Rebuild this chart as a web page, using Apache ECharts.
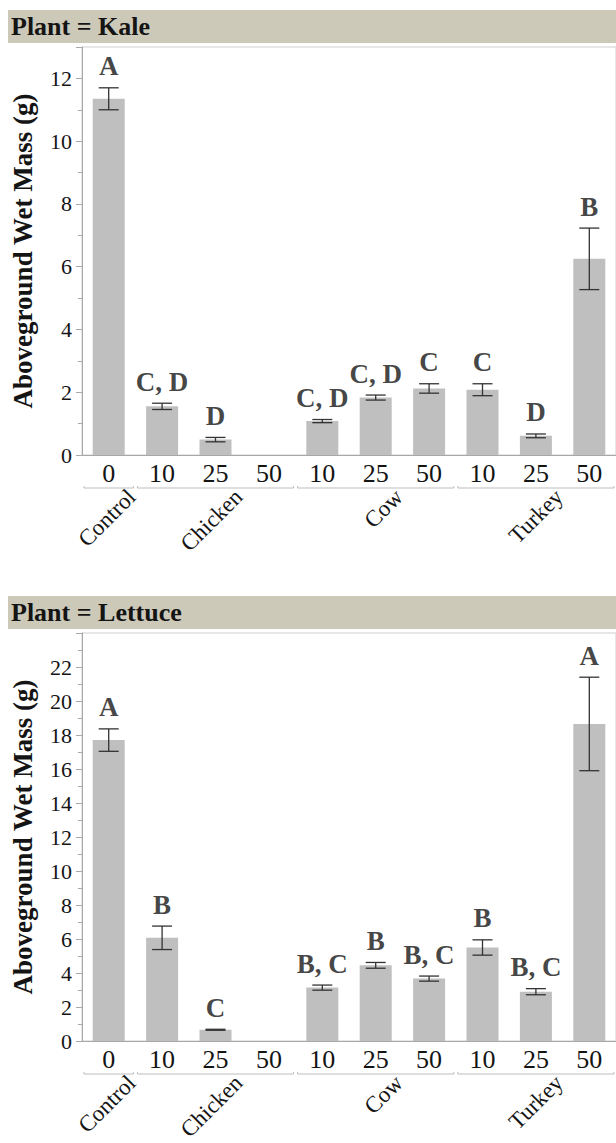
<!DOCTYPE html>
<html>
<head>
<meta charset="utf-8">
<script src="https://cdn.jsdelivr.net/npm/echarts@6/dist/echarts.min.js"></script>
<style>
html,body{margin:0;padding:0;background:#fff;}
#chart{width:616px;height:1143px;}
</style>
</head>
<body>
<div id="chart"></div>
<script>
// ---- data ----
const categories = ['c0','c1','c2','c3','c4','c5','c6','c7','c8','c9'];
const doseLabels = ['0','10','25','50','10','25','50','10','25','50'];
const groupNames = ['Control','Chicken','Cow','Turkey'];
const groupStart = [0,1,4,7];
const groupEnd = [0,3,6,9];
const groupCenter = [0,2,5,8];

const kaleMean = [11.35,1.55,0.49,null,1.08,1.83,2.12,2.08,0.61,6.25];
const kaleErr = [0.35,0.10,0.07,null,0.05,0.08,0.15,0.19,0.06,0.98];
const kaleLetters = ['A','C, D','D','','C, D','C, D','C','C','D','B'];

const lettuceMean = [17.7,6.07,0.66,null,3.14,4.45,3.67,5.5,2.9,18.65];
const lettuceErr = [0.66,0.69,0.03,null,0.15,0.17,0.15,0.45,0.18,2.75];
const lettuceLetters = ['A','B','C','','B, C','B','B, C','B','B, C','A'];

const panelTitles = ['Plant = Kale','Plant = Lettuce'];
const yMax = [13, 24];

// ---- styles ----
const SERIF = '"Liberation Serif","Times New Roman",serif';
const TXT = '#141414';
const AXIS = '#a8a8a8';
const BAR = '#bfbfbf';
const ERR = '#333333';

const panels = [
  {mean: kaleMean, err: kaleErr, letters: kaleLetters, top: 47},
  {mean: lettuceMean, err: lettuceErr, letters: lettuceLetters, top: 633}
];

const chart = echarts.init(document.getElementById('chart'), null, {renderer: 'svg'});

const grids = [], xAxes = [], yAxes = [], series = [], graphics = [];

panels.forEach((p, i) => {
  grids.push({left: 82, top: p.top, width: 547, height: 408, show: true, borderColor: '#cfcfcf', borderWidth: 1, containLabel: false});
  xAxes.push({
    type: 'category', gridIndex: i, data: categories,
    axisLine: {lineStyle: {color: AXIS, width: 1}},
    axisTick: {show: false},
    axisLabel: {formatter: (v, idx) => doseLabels[idx], fontFamily: SERIF, fontSize: 26, color: TXT, margin: 5, interval: 0}
  });
  yAxes.push({
    type: 'value', gridIndex: i, min: 0, max: yMax[i], interval: 2,
    name: 'Aboveground Wet Mass (g)', nameLocation: 'middle', nameGap: 46,
    nameTextStyle: {fontFamily: SERIF, fontWeight: 'bold', fontSize: 27, color: TXT},
    axisLine: {show: true, lineStyle: {color: AXIS, width: 1}},
    axisTick: {show: true, length: 6, lineStyle: {color: AXIS}},
    minorTick: {show: true, splitNumber: 2, length: 4, lineStyle: {color: AXIS}},
    splitLine: {show: false},
    axisLabel: {fontFamily: SERIF, fontSize: 22, color: TXT, margin: 10, showMaxLabel: false}
  });
  // bars
  series.push({
    type: 'bar', xAxisIndex: i, yAxisIndex: i, data: p.mean.map(v => v === null ? '-' : v),
    barWidth: 32, itemStyle: {color: BAR}, silent: true, z: 2
  });
  // error bars
  const errData = [];
  p.mean.forEach((m, k) => { if (m !== null) errData.push([k, m, p.err[k]]); });
  series.push({
    type: 'custom', xAxisIndex: i, yAxisIndex: i, data: errData, clip: false, z: 3,
    encode: {x: 0, y: 1},
    renderItem: (params, api) => {
      const idx = api.value(0), m = api.value(1), e = api.value(2);
      const top = api.coord([idx, m + e]);
      const bot = api.coord([idx, m - e]);
      const x = top[0], hw = 10;
      const st = {stroke: ERR, lineWidth: 1.3};
      return {type: 'group', children: [
        {type: 'line', shape: {x1: x, y1: top[1], x2: x, y2: bot[1]}, style: st},
        {type: 'line', shape: {x1: x - hw, y1: top[1], x2: x + hw, y2: top[1]}, style: st},
        {type: 'line', shape: {x1: x - hw, y1: bot[1], x2: x + hw, y2: bot[1]}, style: st}
      ]};
    }
  });
  // letters
  const letterData = [];
  p.mean.forEach((m, k) => { if (m !== null && p.letters[k]) letterData.push({value: [k, m + p.err[k]], name: p.letters[k]}); });
  series.push({
    type: 'scatter', xAxisIndex: i, yAxisIndex: i, data: letterData, symbolSize: 0, silent: true, z: 4,
    label: {show: true, position: 'top', distance: 8, formatter: d => d.name,
      fontFamily: SERIF, fontWeight: 'bold', fontSize: 27, color: TXT}
  });
  // group brackets and group names
  const grpData = groupNames.map((g, k) => [groupStart[k], groupEnd[k], groupCenter[k], 0]);
  series.push({
    type: 'custom', xAxisIndex: i, yAxisIndex: i, data: grpData, clip: false, z: 3, silent: true,
    encode: {x: 0, y: 3},
    renderItem: (params, api) => {
      const s = api.value(0), e = api.value(1), c = api.value(2);
      const bw = api.size([1, 0])[0];
      const p0 = api.coord([s, 0]), p1 = api.coord([e, 0]), pc = api.coord([c, 0]);
      const y = p0[1] + 33;
      const x0 = p0[0] - bw / 2 + 2, x1 = p1[0] + bw / 2 - 2;
      return {type: 'group', children: [
        {type: 'polyline', shape: {points: [[x0, y - 2], [x0, y], [x1, y], [x1, y - 2]]}, style: {stroke: '#bdbdbd', lineWidth: 1, fill: null}},
        {type: 'text', x: pc[0] + 15, y: y - 3, rotation: Math.PI / 4,
          style: {text: groupNames[params.dataIndex], align: 'right', verticalAlign: 'top',
            font: '23px ' + SERIF, fill: TXT}}
      ]};
    }
  });
  // header band
  graphics.push({type: 'rect', left: 8, top: p.top - 37, shape: {width: 620, height: 33}, style: {fill: '#ccc9b9'}, silent: true, z: 0});
  graphics.push({type: 'text', left: 11, top: p.top - 34, style: {text: panelTitles[i], font: 'bold 26px ' + SERIF, fill: TXT}, z: 1});
});

chart.setOption({
  backgroundColor: '#ffffff',
  animation: false,
  grid: grids, xAxis: xAxes, yAxis: yAxes, series: series, graphic: graphics
});
</script>
</body>
</html>
